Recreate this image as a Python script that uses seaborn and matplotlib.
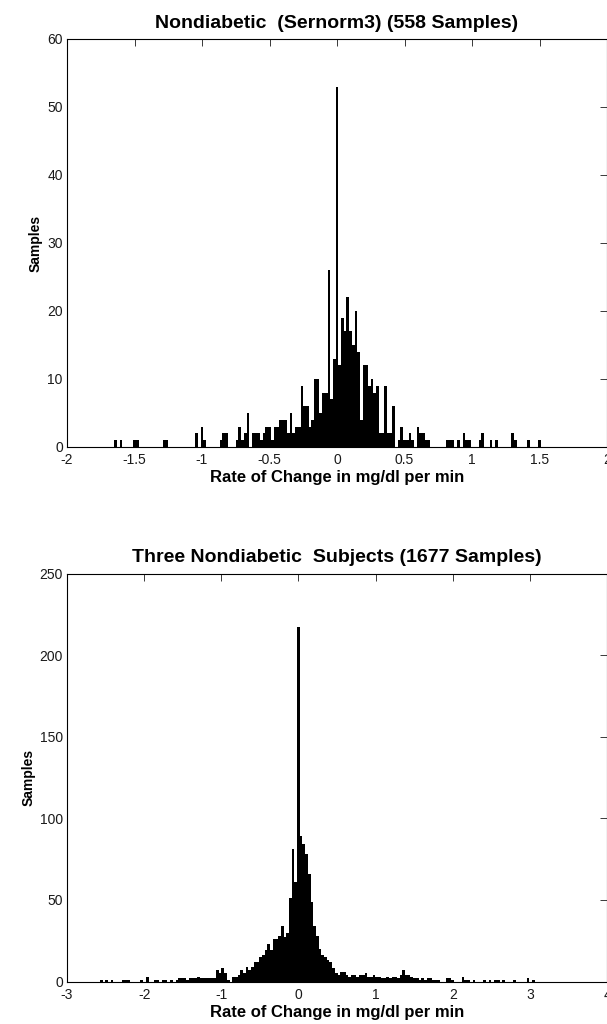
import numpy as np
import pandas as pd
import matplotlib
matplotlib.use("Agg")
import matplotlib.pyplot as plt
import seaborn as sns

# histogram counts, one value per bin
# bin centre = (top_first + i) * top_width
top_width = 0.02
top_first = -83
top_counts = [0, 1, 0, 1, 0, 0, 0, 0, 1, 1,
              0, 0, 0, 0, 0, 0, 0, 0, 0, 1,
              1, 0, 0, 0, 0, 0, 0, 0, 0, 0,
              0, 2, 0, 3, 1, 0, 0, 0, 0, 0,
              1, 2, 2, 0, 0, 0, 1, 3, 1, 2,
              5, 0, 2, 2, 2, 1, 2, 3, 3, 1,
              3, 3, 4, 4, 4, 2, 5, 2, 3, 3,
              9, 6, 6, 3, 4, 10, 10, 5, 8, 8,
              26, 7, 13, 53, 12, 19, 17, 22, 17, 15,
              20, 14, 4, 12, 12, 9, 10, 8, 9, 2,
              2, 9, 2, 2, 6, 0, 1, 3, 1, 1,
              2, 1, 0, 3, 2, 2, 1, 1, 0, 0,
              0, 0, 0, 0, 1, 1, 1, 0, 1, 0,
              2, 1, 1, 0, 0, 0, 1, 2, 0, 0,
              1, 0, 1, 0, 0, 0, 0, 0, 2, 1,
              0, 0, 0, 0, 1, 0, 0, 0, 1, 0]

bottom_width = 0.035
bottom_first = -73
bottom_counts = [1, 0, 1, 0, 1, 0, 0, 0, 1, 1,
                 1, 0, 0, 0, 0, 1, 0, 3, 0, 0,
                 1, 1, 0, 1, 1, 0, 1, 0, 1, 2,
                 2, 2, 1, 2, 2, 2, 3, 2, 2, 2,
                 2, 2, 2, 7, 5, 8, 5, 1, 0, 3,
                 3, 4, 7, 5, 9, 7, 9, 12, 12, 15,
                 16, 19, 23, 19, 26, 26, 28, 34, 27, 30,
                 51, 81, 61, 217, 89, 84, 78, 66, 49, 34,
                 28, 20, 16, 15, 13, 12, 8, 5, 4, 6,
                 6, 4, 3, 4, 4, 3, 4, 4, 5, 3,
                 3, 4, 3, 3, 2, 2, 3, 2, 3, 3,
                 2, 4, 7, 4, 4, 3, 2, 2, 1, 2,
                 1, 2, 2, 1, 1, 1, 0, 0, 2, 2,
                 1, 0, 0, 0, 3, 1, 1, 0, 1, 0,
                 0, 0, 1, 0, 1, 0, 1, 1, 0, 1,
                 0, 0, 0, 1, 0, 0, 0, 0, 2, 0, 1]

top_title = "Nondiabetic  (Sernorm3) (558 Samples)"
bottom_title = "Three Nondiabetic  Subjects (1677 Samples)"
x_label = "Rate of Change in mg/dl per min"
y_label = "Samples"

top_xticks = [-2, -1.5, -1, -0.5, 0, 0.5, 1, 1.5, 2]
top_xticklabels = ["-2", "-1.5", "-1", "-0.5", "0", "0.5", "1", "1.5", "2"]
top_yticks = [0, 10, 20, 30, 40, 50, 60]
bottom_xticks = [-3, -2, -1, 0, 1, 2, 3, 4]
bottom_xticklabels = ["-3", "-2", "-1", "0", "1", "2", "3", "4"]
bottom_yticks = [0, 50, 100, 150, 200, 250]

sns.set_style("white")
plt.rcParams['font.family'] = ['Liberation Sans', 'DejaVu Sans']
plt.rcParams['axes.unicode_minus'] = False
plt.rcParams['text.color'] = 'black'
plt.rcParams['axes.labelcolor'] = 'black'


def MakeHist(ax, first, width, counts, xticks, xticklabels, yticks, title):
    n = len(counts)
    centers = (np.arange(n) + first) * width
    lo = (first - 0.5) * width
    hi = (first + n - 0.5) * width
    df = pd.DataFrame({"rate": centers, "samples": counts})
    sns.histplot(data=df, x="rate", weights="samples", binwidth=width,
                 binrange=(lo, hi), color="black", alpha=1, linewidth=0, ax=ax)
    ax.set_xlim(xticks[0], xticks[-1])
    ax.set_ylim(yticks[0], yticks[-1])
    ax.set_xticks(xticks)
    ax.set_xticklabels(xticklabels)
    ax.set_yticks(yticks)
    ax.set_yticklabels([str(v) for v in yticks])
    ax.tick_params(direction="in", top=True, right=True, length=5, width=0.6,
                   labelsize=10, colors="#1a1a1a")
    ax.tick_params(axis="x", pad=4.5)
    ax.tick_params(axis="y", pad=3)
    for s in ax.spines.values():
        s.set_visible(True)
        s.set_color("black")
        s.set_linewidth(0.8)
    ax.set_title(title, fontsize=14, fontweight="bold", pad=8, color="black")
    ax.set_xlabel(x_label, fontsize=12, fontweight="bold", labelpad=2, color="black")
    ax.set_ylabel(y_label, fontsize=10, fontweight="bold", labelpad=3, color="black")


fig = plt.figure(figsize=(6.07, 10.24), dpi=100)
ax1 = fig.add_axes([67 / 607, 1 - 447 / 1024, 540 / 607, 408 / 1024])
ax2 = fig.add_axes([67 / 607, 1 - 981.5 / 1024, 540 / 607, 408 / 1024])

MakeHist(ax1, top_first, top_width, top_counts, top_xticks, top_xticklabels, top_yticks, top_title)
MakeHist(ax2, bottom_first, bottom_width, bottom_counts, bottom_xticks, bottom_xticklabels, bottom_yticks, bottom_title)

fig.savefig("out.png", dpi=100)
